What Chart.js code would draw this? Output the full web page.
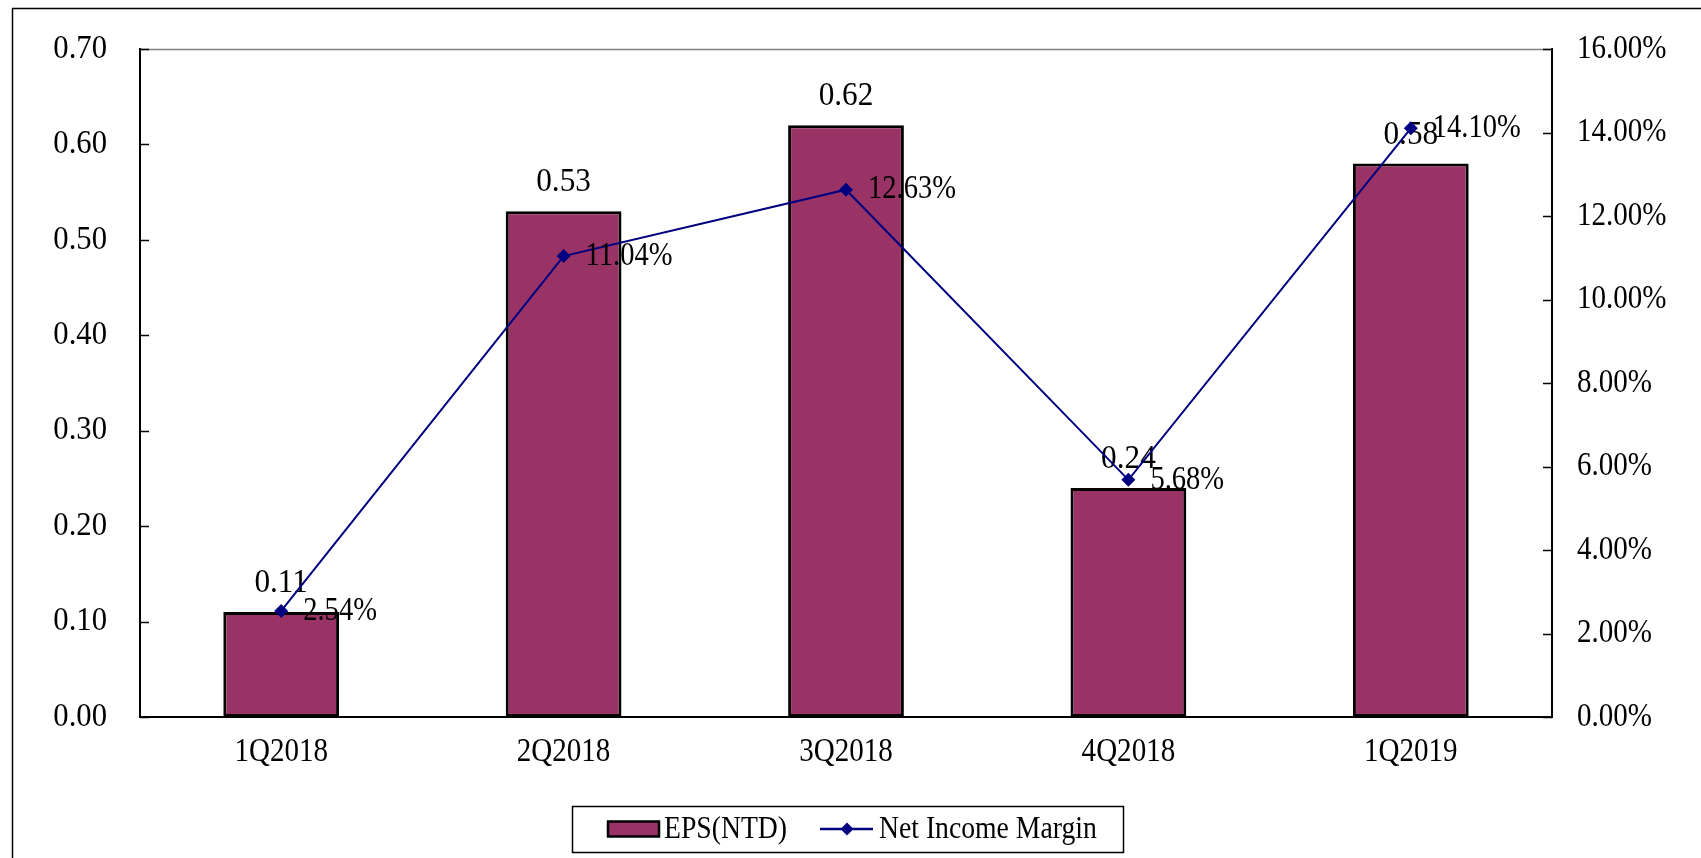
<!DOCTYPE html>
<html>
<head>
<meta charset="utf-8">
<script src="https://cdn.jsdelivr.net/npm/chart.js@4.4.1/dist/chart.umd.min.js"></script>
<style>
html,body{margin:0;padding:0;background:#fff;}
#wrap{width:1701px;height:858px;position:relative;}
</style>
</head>
<body>
<div id="wrap"><canvas id="c" width="1701" height="858"></canvas></div>
<script>
const categories = ['1Q2018','2Q2018','3Q2018','4Q2018','1Q2019'];
const epsValues = [0.11, 0.53, 0.62, 0.24, 0.58];
const marginValues = [2.54, 11.04, 12.63, 5.68, 14.10];
const epsLabel = 'EPS(NTD)';
const marginLabel = 'Net Income Margin';

const FONT = '"Liberation Serif", "Times New Roman", serif';
const BAR_COLOR = '#993366';
const LINE_COLOR = '#000080';

function txt(ctx, s, x, y, size, sx, align, baseline) {
  ctx.save();
  ctx.font = size + 'px ' + FONT;
  ctx.fillStyle = '#000';
  ctx.textAlign = align;
  ctx.textBaseline = baseline;
  ctx.translate(x, y);
  ctx.scale(sx, 1);
  ctx.fillText(s, 0, 0);
  ctx.restore();
}

const decor = {
  id: 'decor',
  afterDatasetDraw(chart, args) {
    const ctx = chart.ctx;
    if (args.index === 0) {
      const meta = chart.getDatasetMeta(0);
      meta.data.forEach((el, i) => {
        txt(ctx, epsValues[i].toFixed(2), el.x, el.y - 20, 34, 0.92, 'center', 'alphabetic');
      });
    }
  },
  afterDatasetsDraw(chart) {
    const ctx = chart.ctx;
    const meta = chart.getDatasetMeta(1);
    meta.data.forEach((el, i) => {
      txt(ctx, marginValues[i].toFixed(2) + '%', el.x + 22, el.y, 33, 0.865, 'left', 'middle');
    });
  },
  afterDraw(chart) {
    const ctx = chart.ctx;
    const a = chart.chartArea;
    ctx.save();
    // outer frame
    ctx.strokeStyle = '#000';
    ctx.lineWidth = 1.5;
    ctx.strokeRect(12.5, 8.5, 3000, 3000);
    // top plot border
    ctx.strokeStyle = '#808080';
    ctx.lineWidth = 1.5;
    ctx.beginPath();
    ctx.moveTo(a.left, a.top + 0.5);
    ctx.lineTo(a.right, a.top + 0.5);
    ctx.stroke();
    // inward ticks + tick labels
    ctx.strokeStyle = '#000';
    ctx.lineWidth = 1.5;
    const yl = chart.scales.y;
    yl.ticks.forEach(t => {
      const py = yl.getPixelForValue(t.value);
      ctx.beginPath();
      ctx.moveTo(a.left, Math.round(py) + 0.5);
      ctx.lineTo(a.left + 9, Math.round(py) + 0.5);
      ctx.stroke();
      txt(ctx, Number(t.value).toFixed(2), 107, py, 33, 0.93, 'right', 'middle');
    });
    const yr = chart.scales.y1;
    yr.ticks.forEach(t => {
      const py = yr.getPixelForValue(t.value);
      ctx.beginPath();
      ctx.moveTo(a.right, Math.round(py) + 0.5);
      ctx.lineTo(a.right - 9, Math.round(py) + 0.5);
      ctx.stroke();
      txt(ctx, Number(t.value).toFixed(2) + '%', a.right + 25, py, 33, 0.88, 'left', 'middle');
    });
    const xs = chart.scales.x;
    categories.forEach((c, i) => {
      txt(ctx, c, xs.getPixelForValue(i), a.bottom + 35, 33, 0.88, 'center', 'middle');
    });
    // legend
    const lx = 572, ly = 806, lw = 551, lh = 46;
    ctx.lineWidth = 1.5;
    ctx.strokeStyle = '#000';
    ctx.strokeRect(lx + 0.5, ly + 0.5, lw, lh);
    const cy = ly + lh / 2;
    ctx.fillStyle = BAR_COLOR;
    ctx.fillRect(608, cy - 7.5, 51, 15);
    ctx.lineWidth = 2.5;
    ctx.strokeRect(608, cy - 7.5, 51, 15);
    txt(ctx, epsLabel, 664, cy + 1, 32, 0.865, 'left', 'middle');
    ctx.strokeStyle = LINE_COLOR;
    ctx.lineWidth = 2.5;
    ctx.beginPath();
    ctx.moveTo(820, cy);
    ctx.lineTo(873, cy);
    ctx.stroke();
    ctx.fillStyle = LINE_COLOR;
    ctx.beginPath();
    ctx.moveTo(847, cy - 6.5);
    ctx.lineTo(853.5, cy);
    ctx.lineTo(847, cy + 6.5);
    ctx.lineTo(840.5, cy);
    ctx.closePath();
    ctx.fill();
    txt(ctx, marginLabel, 879, cy + 1, 32, 0.865, 'left', 'middle');
    ctx.restore();
  }
};

new Chart(document.getElementById('c'), {
  data: {
    labels: categories,
    datasets: [
      {
        type: 'bar',
        label: epsLabel,
        data: epsValues,
        yAxisID: 'y',
        backgroundColor: BAR_COLOR,
        borderColor: '#000',
        borderWidth: 3,
        borderSkipped: false,
        barPercentage: 0.41,
        categoryPercentage: 1.0,
        order: 1
      },
      {
        type: 'line',
        label: marginLabel,
        data: marginValues,
        yAxisID: 'y1',
        borderColor: LINE_COLOR,
        backgroundColor: LINE_COLOR,
        borderWidth: 2,
        pointStyle: 'rectRot',
        pointRadius: 7,
        pointBorderWidth: 0,
        tension: 0,
        order: 0
      }
    ]
  },
  options: {
    responsive: false,
    animation: false,
    devicePixelRatio: 1,
    layout: { padding: { top: 49, left: 0, right: 0, bottom: 0 } },
    plugins: { legend: { display: false }, tooltip: { enabled: false } },
    scales: {
      x: {
        grid: { display: false, drawTicks: false },
        border: { display: true, color: '#000', width: 2 },
        ticks: { display: false },
        afterFit(s) { s.height = 141; }
      },
      y: {
        position: 'left',
        min: 0, max: 0.7,
        grid: { display: false, drawTicks: false },
        border: { display: true, color: '#000', width: 2 },
        ticks: { display: false, stepSize: 0.1 },
        afterFit(s) { s.width = 140; }
      },
      y1: {
        position: 'right',
        min: 0, max: 16,
        grid: { display: false, drawTicks: false },
        border: { display: true, color: '#000', width: 2 },
        ticks: { display: false, stepSize: 2 },
        afterFit(s) { s.width = 149; }
      }
    }
  },
  plugins: [decor]
});
</script>
</body>
</html>
